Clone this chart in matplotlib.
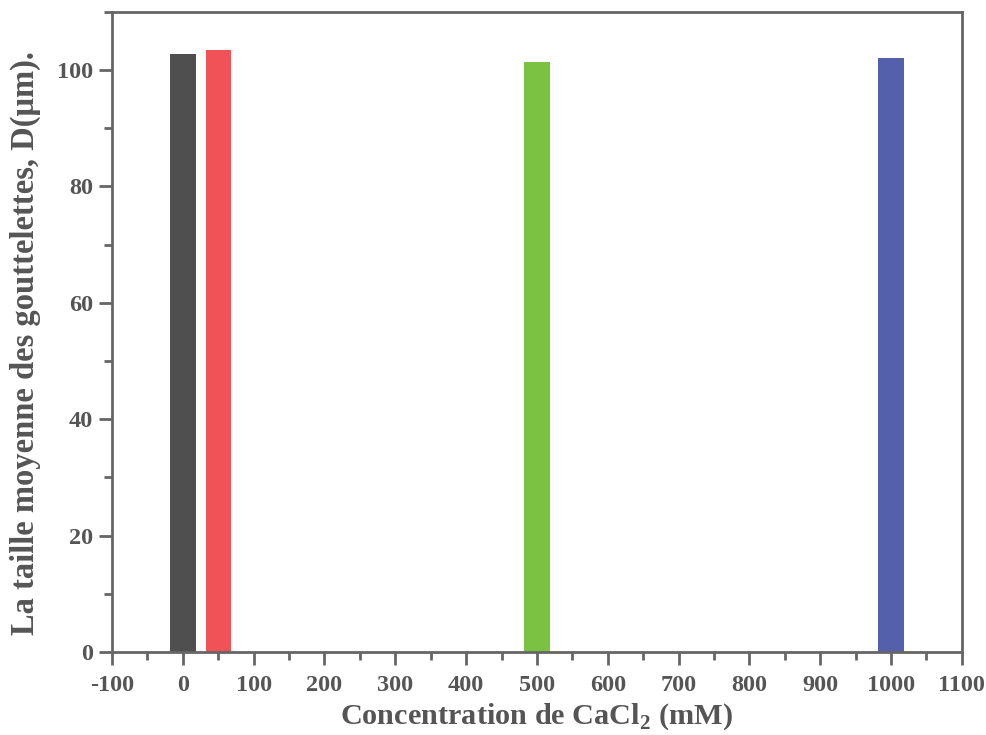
import matplotlib
matplotlib.use('Agg')
import matplotlib.pyplot as plt
from matplotlib.ticker import MultipleLocator

# data
conc = [0, 50, 500, 1000]
diam = [102.7, 103.5, 101.4, 102.0]
colors = ['#4f4f4f', '#f05258', '#7bc142', '#5560ad']

plt.rcParams['font.family'] = ['Liberation Serif', 'DejaVu Serif']
plt.rcParams['font.weight'] = 'bold'
plt.rcParams['axes.unicode_minus'] = False
plt.rcParams['mathtext.fontset'] = 'custom'
plt.rcParams['mathtext.rm'] = 'Liberation Serif:bold'
plt.rcParams['mathtext.bf'] = 'Liberation Serif:bold'
txt = '#555555'

fig = plt.figure(figsize=(9.87, 7.35), dpi=100)
ax = fig.add_axes([0.1135, 0.113, 0.861, 0.871])

ax.bar(conc, diam, width=36, color=colors, zorder=2)

ax.set_xlim(-100, 1100)
ax.set_ylim(0, 110)
ax.xaxis.set_major_locator(MultipleLocator(100))
ax.xaxis.set_minor_locator(MultipleLocator(50))
ax.yaxis.set_major_locator(MultipleLocator(20))
ax.yaxis.set_minor_locator(MultipleLocator(10))

for s in ax.spines.values():
    s.set_color('#666666')
    s.set_linewidth(2)

ax.tick_params(which='both', direction='out', colors='#666666', width=2,
               labelcolor=txt, labelsize=17.5, top=False, right=False)
ax.tick_params(which='major', length=9.5)
ax.tick_params(which='minor', length=6)
ax.tick_params(axis='x', pad=7)
ax.tick_params(axis='y', pad=4)

ax.set_xlabel('Concentration de CaCl$_\\mathrm{2}$ (mM)', fontsize=21.8,
              fontweight='bold', color=txt)
ax.set_ylabel('La taille moyenne des gouttelettes, D(\u03bcm).', fontsize=23.5,
              fontweight='bold', color=txt)
ax.xaxis.set_label_coords(0.499, -0.077)
ax.yaxis.set_label_coords(-0.083, 0.483)

fig.savefig('out.png', dpi=100)
